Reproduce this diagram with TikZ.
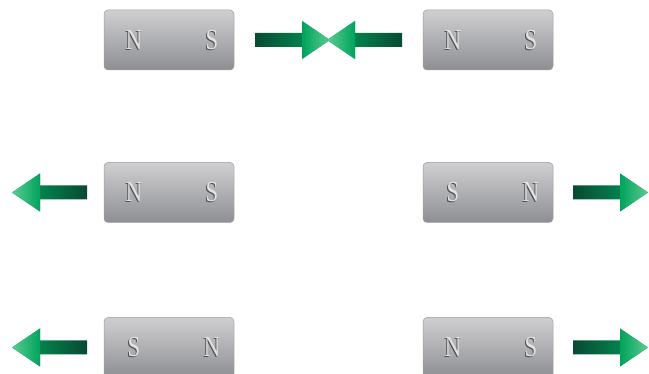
\documentclass[tikz,border=0pt]{standalone}
\usepackage{fontspec}
\usepackage{tikz}
\usetikzlibrary{positioning}
\newfontfamily\polefont[FakeStretch=0.78]{Liberation Serif}
\definecolor{magtop}{HTML}{CFCFD1}
\definecolor{magbot}{HTML}{8E8F93}
\definecolor{magline}{HTML}{9C9DA0}
\definecolor{polelight}{HTML}{E2E2E4}
\definecolor{poledark}{HTML}{4E4F53}
\definecolor{arrowdark}{HTML}{084A33}
\definecolor{arrowmid}{HTML}{00A35C}
\definecolor{arrowlight}{HTML}{5CCB92}
\tikzset{
  magnet/.style ={draw=magline, rectangle, rounded corners=4pt,
                  minimum width=130pt, minimum height=60pt, inner sep=0pt,
                  top color=magtop, bottom color=magbot, line width=0.5pt},
  poleshd/.style={font=\polefont\fontsize{29}{29}\selectfont, text=poledark,
                  inner sep=0pt},
  pole/.style   ={font=\polefont\fontsize{29}{29}\selectfont, text=polelight,
                  inner sep=0pt},
  garrowR/.pic  ={
    \path[left color=arrowdark, right color=arrowmid]
      (0,-7) -- (47,-7) -- (47,-19) -- (75,0) -- (47,19) -- (47,7)
      -- (0,7) -- cycle;
    \path[left color=arrowmid, right color=arrowlight]
      (47,-19) -- (75,0) -- (47,19) -- cycle;
  },
  garrowL/.pic  ={
    \path[right color=arrowdark, left color=arrowmid]
      (0,-7) -- (-47,-7) -- (-47,-19) -- (-75,0) -- (-47,19) -- (-47,7)
      -- (0,7) -- cycle;
    \path[right color=arrowmid, left color=arrowlight]
      (-47,-19) -- (-75,0) -- (-47,19) -- cycle;
  },
}
% one magnet with its two poles
\newcommand{\magnetat}[4]{%
  \node[magnet] (#1) at #2 {};
  \node[poleshd] at ([xshift=-36pt,yshift=-0.8pt]#1.center) {#3};
  \node[pole]    (#1l) at ([xshift=-35pt]#1.center) {#3};
  \node[poleshd] at ([xshift=42pt,yshift=-0.8pt]#1.center) {#4};
  \node[pole]    (#1r) at ([xshift=43pt]#1.center) {#4};
}
\begin{document}
\begin{tikzpicture}[x=1pt,y=-1pt]
  \useasboundingbox (0,0) rectangle (649,374);
  % top row: attraction
  \magnetat{m1}{(169,40)}{N}{S}
  \magnetat{m2}{(488,40)}{N}{S}
  \coordinate (t1) at (255,40);
  \coordinate (t2) at (402,40);
  \pic at (t1) {garrowR};
  \pic at (t2) {garrowL};
  % middle row
  \magnetat{m3}{(169,192.5)}{N}{S}
  \magnetat{m4}{(488,192.5)}{S}{N}
  \coordinate (t3) at (87,192.5);
  \coordinate (t4) at (573,192.5);
  \pic at (t3) {garrowL};
  \pic at (t4) {garrowR};
  % bottom row
  \magnetat{m5}{(169,347.5)}{S}{N}
  \magnetat{m6}{(488,347.5)}{N}{S}
  \coordinate (t5) at (87,347.5);
  \coordinate (t6) at (573,347.5);
  \pic at (t5) {garrowL};
  \pic at (t6) {garrowR};
\end{tikzpicture}
\end{document}
